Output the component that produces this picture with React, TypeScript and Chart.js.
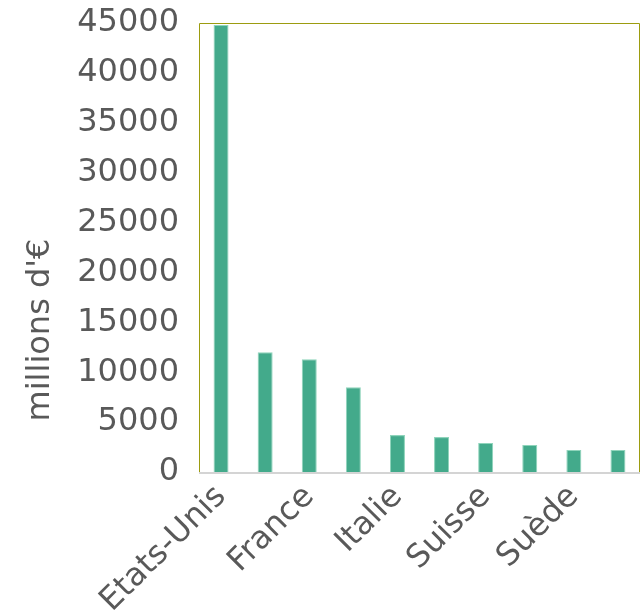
import { useEffect, useRef } from 'react';
import { Chart, registerables } from 'chart.js';
Chart.register(...registerables);

const categories = ['Etats-Unis', 'Allemagne', 'France', 'Royaume-Uni', 'Italie', 'Pays-Bas', 'Suisse', 'Belgique', 'Suède', 'Espagne'];
const values = [44800, 12000, 11300, 8500, 3700, 3500, 2900, 2700, 2200, 2200];
const yMin = 0;
const yMax = 45000;
const yStep = 5000;
const yTitle = "millions d'€";

const framePlugin = {
  id: 'frame',
  beforeDatasetsDraw(chart: any) {
    const { ctx, chartArea } = chart;
    const { left, right, top, bottom } = chartArea;
    ctx.save();
    ctx.strokeStyle = '#9c9c10';
    ctx.lineWidth = 1;
    ctx.beginPath();
    ctx.moveTo(left + 0.5, bottom);
    ctx.lineTo(left + 0.5, top + 0.5);
    ctx.lineTo(right - 0.5, top + 0.5);
    ctx.lineTo(right - 0.5, bottom);
    ctx.stroke();
    ctx.restore();
  },
  afterDatasetsDraw(chart: any) {
    const { ctx, chartArea } = chart;
    const { left, right, bottom } = chartArea;
    ctx.save();
    ctx.strokeStyle = '#d4d4d4';
    ctx.lineWidth = 2;
    ctx.beginPath();
    ctx.moveTo(left, bottom + 1);
    ctx.lineTo(right, bottom + 1);
    ctx.stroke();
    ctx.restore();
  },
  afterDraw(chart: any) {
    const { ctx } = chart;
    ctx.save();
    ctx.translate(41, 330);
    ctx.rotate(-Math.PI / 2);
    ctx.fillStyle = '#595959';
    ctx.font = '32px "DejaVu Sans"';
    ctx.textAlign = 'center';
    ctx.textBaseline = 'middle';
    ctx.fillText(yTitle, 0, 0);
    ctx.restore();
  },
};

export default function App() {
  const ref = useRef<HTMLCanvasElement>(null);
  useEffect(() => {
    document.body.style.margin = '0';
    const chart = new Chart(ref.current!, {
      type: 'bar',
      data: {
        labels: categories,
        datasets: [
          {
            data: values,
            backgroundColor: '#43aa8b',
            borderColor: '#8fd4bb',
            borderWidth: 1,
            categoryPercentage: 1,
            barPercentage: 0.34,
          },
        ],
      },
      options: {
        animation: false,
        responsive: true,
        maintainAspectRatio: false,
        layout: { padding: { top: 0, right: 1, left: 0, bottom: 0 } },
        plugins: { legend: { display: false }, tooltip: { enabled: false } },
        scales: {
          x: {
            grid: { display: false, drawTicks: false },
            border: { display: false },
            afterFit: (s: any) => {
              s.height = 139;
              s.paddingTop = 0;
              s.paddingBottom = 0;
              s.paddingLeft = 0;
              s.paddingRight = 0;
            },
            ticks: {
              autoSkip: false,
              maxRotation: 45,
              minRotation: 45,
              padding: 6,
              color: '#595959',
              font: { family: 'DejaVu Sans', size: 32 },
              callback: (_v: any, i: number) => (i % 2 === 0 ? categories[i] : ''),
            },
          },
          y: {
            min: yMin,
            max: yMax,
            grid: { display: false, drawTicks: false },
            border: { display: false },
            afterFit: (s: any) => { s.width = 199; s.paddingTop = 23; s.paddingBottom = 0; },
            ticks: {
              stepSize: yStep,
              padding: 20,
              color: '#595959',
              font: { family: 'DejaVu Sans', size: 32 },
              callback: (v: any) => String(v),
            },
            title: { display: false, text: yTitle },
          },
        },
      },
      plugins: [framePlugin],
    });
    return () => chart.destroy();
  }, []);
  return (
    <div style={{ width: 641, height: 611, position: 'relative' }}>
      <canvas ref={ref} />
    </div>
  );
}
